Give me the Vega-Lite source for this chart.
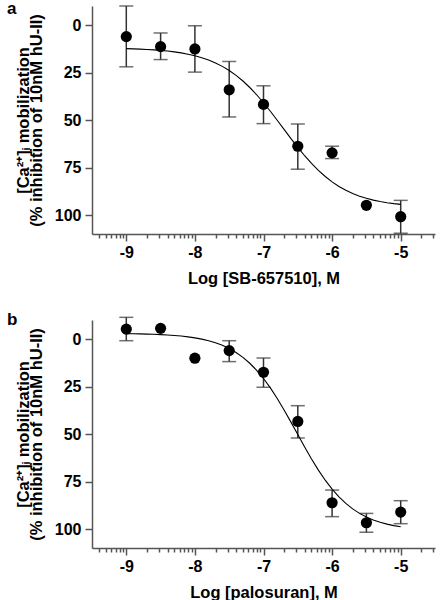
{
  "$schema": "https://vega.github.io/schema/vega-lite/v6.json",
  "background": "white",
  "padding": {"left": 7, "top": -1, "right": 5, "bottom": 5},
  "config": {
    "font": "Liberation Sans",
    "view": {"stroke": null},
    "concat": {"spacing": 24},
    "axis": {
      "grid": false, "labelOverlap": false,
      "labelFont": "Liberation Sans", "labelFontSize": 16, "labelFontWeight": "bold", "labelColor": "black",
      "titleFont": "Liberation Sans", "titleFontSize": 16.5, "titleFontWeight": "bold", "titleColor": "black",
      "domainColor": "#555555", "tickColor": "#555555", "domainWidth": 1.5, "tickWidth": 1.5
    }
  },
  "datasets": {
    "a_pts": [
      {"logc": -9, "pct": 6.1, "lo": -10.0, "hi": 22.0},
      {"logc": -8.5, "pct": 11.4, "lo": 4.2, "hi": 18.2},
      {"logc": -8, "pct": 12.6, "lo": 0.4, "hi": 24.8},
      {"logc": -7.5, "pct": 34.1, "lo": 19.2, "hi": 48.4},
      {"logc": -7, "pct": 41.8, "lo": 32.0, "hi": 51.9},
      {"logc": -6.5, "pct": 63.8, "lo": 52.1, "hi": 75.9},
      {"logc": -6, "pct": 67.3, "lo": 63.8, "hi": 70.3},
      {"logc": -5.5, "pct": 94.9, "lo": null, "hi": null},
      {"logc": -5, "pct": 100.9, "lo": 92.3, "hi": 109.6}
    ],
    "b_pts": [
      {"logc": -9, "pct": -5.2, "lo": -11.4, "hi": 0.9},
      {"logc": -8.5, "pct": -5.6, "lo": null, "hi": null},
      {"logc": -8, "pct": 10.1, "lo": null, "hi": null},
      {"logc": -7.5, "pct": 6.1, "lo": 0.9, "hi": 11.9},
      {"logc": -7, "pct": 17.5, "lo": 10.0, "hi": 25.4},
      {"logc": -6.5, "pct": 43.4, "lo": 35.1, "hi": 52.1},
      {"logc": -6, "pct": 86.2, "lo": 79.5, "hi": 93.5},
      {"logc": -5.5, "pct": 96.7, "lo": 91.8, "hi": 101.7},
      {"logc": -5, "pct": 91.1, "lo": 85.1, "hi": 97.2}
    ],
    "a_fit": [
      {"logc": -9.0, "pct": 12.44}, {"logc": -8.9, "pct": 12.55}, {"logc": -8.8, "pct": 12.69}, {"logc": -8.7, "pct": 12.87},
      {"logc": -8.6, "pct": 13.09}, {"logc": -8.5, "pct": 13.37}, {"logc": -8.4, "pct": 13.72}, {"logc": -8.3, "pct": 14.15},
      {"logc": -8.2, "pct": 14.69}, {"logc": -8.1, "pct": 15.36}, {"logc": -8.0, "pct": 16.19}, {"logc": -7.9, "pct": 17.20},
      {"logc": -7.8, "pct": 18.45}, {"logc": -7.7, "pct": 19.96}, {"logc": -7.6, "pct": 21.78}, {"logc": -7.5, "pct": 23.96},
      {"logc": -7.4, "pct": 26.52}, {"logc": -7.3, "pct": 29.49}, {"logc": -7.2, "pct": 32.90}, {"logc": -7.1, "pct": 36.71},
      {"logc": -7.0, "pct": 40.92}, {"logc": -6.9, "pct": 45.41}, {"logc": -6.8, "pct": 50.15}, {"logc": -6.7, "pct": 54.97},
      {"logc": -6.6, "pct": 59.77}, {"logc": -6.5, "pct": 64.42}, {"logc": -6.4, "pct": 68.81}, {"logc": -6.3, "pct": 72.86},
      {"logc": -6.2, "pct": 76.52}, {"logc": -6.1, "pct": 79.75}, {"logc": -6.0, "pct": 82.56}, {"logc": -5.9, "pct": 84.96},
      {"logc": -5.8, "pct": 86.99}, {"logc": -5.7, "pct": 88.68}, {"logc": -5.6, "pct": 90.08}, {"logc": -5.5, "pct": 91.22},
      {"logc": -5.4, "pct": 92.16}, {"logc": -5.3, "pct": 92.92}, {"logc": -5.2, "pct": 93.54}, {"logc": -5.1, "pct": 94.03},
      {"logc": -5.0, "pct": 94.43}
    ],
    "b_fit": [
      {"logc": -9.0, "pct": -2.81}, {"logc": -8.9, "pct": -2.75}, {"logc": -8.8, "pct": -2.68}, {"logc": -8.7, "pct": -2.59},
      {"logc": -8.6, "pct": -2.47}, {"logc": -8.5, "pct": -2.31}, {"logc": -8.4, "pct": -2.12}, {"logc": -8.3, "pct": -1.87},
      {"logc": -8.2, "pct": -1.54}, {"logc": -8.1, "pct": -1.13}, {"logc": -8.0, "pct": -0.61}, {"logc": -7.9, "pct": 0.06},
      {"logc": -7.8, "pct": 0.91}, {"logc": -7.7, "pct": 1.99}, {"logc": -7.6, "pct": 3.33}, {"logc": -7.5, "pct": 5.02},
      {"logc": -7.4, "pct": 7.11}, {"logc": -7.3, "pct": 9.67}, {"logc": -7.2, "pct": 12.76}, {"logc": -7.1, "pct": 16.46},
      {"logc": -7.0, "pct": 20.78}, {"logc": -6.9, "pct": 25.75}, {"logc": -6.8, "pct": 31.30}, {"logc": -6.7, "pct": 37.34},
      {"logc": -6.6, "pct": 43.75}, {"logc": -6.5, "pct": 50.32}, {"logc": -6.4, "pct": 56.84}, {"logc": -6.3, "pct": 63.12},
      {"logc": -6.2, "pct": 68.99}, {"logc": -6.1, "pct": 74.32}, {"logc": -6.0, "pct": 79.02}, {"logc": -5.9, "pct": 83.09},
      {"logc": -5.8, "pct": 86.55}, {"logc": -5.7, "pct": 89.42}, {"logc": -5.6, "pct": 91.78}, {"logc": -5.5, "pct": 93.70},
      {"logc": -5.4, "pct": 95.24}, {"logc": -5.3, "pct": 96.47}, {"logc": -5.2, "pct": 97.45}, {"logc": -5.1, "pct": 98.23},
      {"logc": -5.0, "pct": 98.83}
    ]
  },
  "vconcat": [
    {
      "width": 343,
      "height": 228,
      "title": {"text": "a", "anchor": "start", "frame": "group", "orient": "top", "offset": 0, "baseline": "alphabetic", "dx": -85, "dy": 25.5, "fontSize": 17, "fontWeight": "bold", "font": "Liberation Sans", "color": "black"},
      "encoding": {
        "x": {"field": "logc", "type": "quantitative",
          "scale": {"domain": [-9.5, -4.5], "nice": false, "zero": false},
          "axis": {"title": "Log [SB-657510], M", "values": [-9.39794, -9.30103, -9.22185, -9.1549, -9.09691, -9.04576, -9, -8.69897, -8.52288, -8.39794, -8.30103, -8.22185, -8.1549, -8.09691, -8.04576, -8, -7.69897, -7.52288, -7.39794, -7.30103, -7.22185, -7.1549, -7.09691, -7.04576, -7, -6.69897, -6.52288, -6.39794, -6.30103, -6.22185, -6.1549, -6.09691, -6.04576, -6, -5.69897, -5.52288, -5.39794, -5.30103, -5.22185, -5.1549, -5.09691, -5.04576, -5, -4.69897, -4.52288],
            "labelExpr": "datum.value == round(datum.value) ? '' + datum.value : ''",
            "labelOverlap": false, "labelFlush": false, "labelBound": false, "labelPadding": 3,
            "tickSize": {"condition": {"test": "datum.value == round(datum.value)", "value": 7}, "value": 4},
            "titlePadding": 10}}
      },
      "layer": [
        {
          "data": {"name": "a_pts"},
          "mark": {"type": "rule", "color": "#333333", "strokeWidth": 1.5},
          "encoding": {
            "y": {"field": "lo", "type": "quantitative",
              "scale": {"domain": [-10, 110], "nice": false, "zero": false, "reverse": true},
              "axis": {"title": ["[Ca²⁺]ᵢ mobilization", "(% inhibition of 10nM hU-II)"], "values": [0, 25, 50, 75, 100], "tickSize": 7, "labelPadding": 4, "titlePadding": 10, "titleLineHeight": 13}},
            "y2": {"field": "hi"}
          }
        },
        {
          "data": {"name": "a_pts"},
          "mark": {"type": "tick", "orient": "horizontal", "size": 14, "thickness": 1.5, "color": "#333333"},
          "encoding": {"y": {"field": "lo", "type": "quantitative"}}
        },
        {
          "data": {"name": "a_pts"},
          "mark": {"type": "tick", "orient": "horizontal", "size": 14, "thickness": 1.5, "color": "#333333"},
          "encoding": {"y": {"field": "hi", "type": "quantitative"}}
        },
        {
          "data": {"name": "a_fit"},
          "mark": {"type": "line", "color": "black", "strokeWidth": 1.1},
          "encoding": {"y": {"field": "pct", "type": "quantitative"}}
        },
        {
          "data": {"name": "a_pts"},
          "mark": {"type": "circle", "color": "black", "opacity": 1, "size": 125},
          "encoding": {"y": {"field": "pct", "type": "quantitative"}}
        }
      ]
    },
    {
      "width": 343,
      "height": 228,
      "title": {"text": "b", "anchor": "start", "frame": "group", "orient": "top", "offset": 0, "baseline": "alphabetic", "dx": -85, "dy": 25.5, "fontSize": 17, "fontWeight": "bold", "font": "Liberation Sans", "color": "black"},
      "encoding": {
        "x": {"field": "logc", "type": "quantitative",
          "scale": {"domain": [-9.5, -4.5], "nice": false, "zero": false},
          "axis": {"title": "Log [palosuran], M", "values": [-9.39794, -9.30103, -9.22185, -9.1549, -9.09691, -9.04576, -9, -8.69897, -8.52288, -8.39794, -8.30103, -8.22185, -8.1549, -8.09691, -8.04576, -8, -7.69897, -7.52288, -7.39794, -7.30103, -7.22185, -7.1549, -7.09691, -7.04576, -7, -6.69897, -6.52288, -6.39794, -6.30103, -6.22185, -6.1549, -6.09691, -6.04576, -6, -5.69897, -5.52288, -5.39794, -5.30103, -5.22185, -5.1549, -5.09691, -5.04576, -5, -4.69897, -4.52288],
            "labelExpr": "datum.value == round(datum.value) ? '' + datum.value : ''",
            "labelOverlap": false, "labelFlush": false, "labelBound": false, "labelPadding": 3,
            "tickSize": {"condition": {"test": "datum.value == round(datum.value)", "value": 7}, "value": 4},
            "titlePadding": 10}}
      },
      "layer": [
        {
          "data": {"name": "b_pts"},
          "mark": {"type": "rule", "color": "#333333", "strokeWidth": 1.5},
          "encoding": {
            "y": {"field": "lo", "type": "quantitative",
              "scale": {"domain": [-10, 110], "nice": false, "zero": false, "reverse": true},
              "axis": {"title": ["[Ca²⁺]ᵢ mobilization", "(% inhibition of 10nM hU-II)"], "values": [0, 25, 50, 75, 100], "tickSize": 7, "labelPadding": 4, "titlePadding": 10, "titleLineHeight": 13}},
            "y2": {"field": "hi"}
          }
        },
        {
          "data": {"name": "b_pts"},
          "mark": {"type": "tick", "orient": "horizontal", "size": 14, "thickness": 1.5, "color": "#333333"},
          "encoding": {"y": {"field": "lo", "type": "quantitative"}}
        },
        {
          "data": {"name": "b_pts"},
          "mark": {"type": "tick", "orient": "horizontal", "size": 14, "thickness": 1.5, "color": "#333333"},
          "encoding": {"y": {"field": "hi", "type": "quantitative"}}
        },
        {
          "data": {"name": "b_fit"},
          "mark": {"type": "line", "color": "black", "strokeWidth": 1.1},
          "encoding": {"y": {"field": "pct", "type": "quantitative"}}
        },
        {
          "data": {"name": "b_pts"},
          "mark": {"type": "circle", "color": "black", "opacity": 1, "size": 125},
          "encoding": {"y": {"field": "pct", "type": "quantitative"}}
        }
      ]
    }
  ]
}
